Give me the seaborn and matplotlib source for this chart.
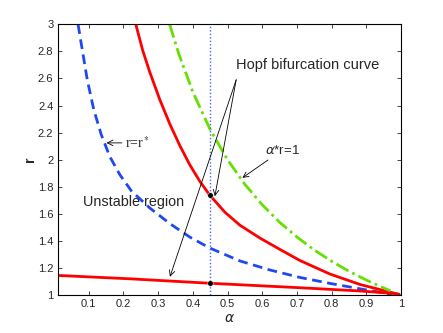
import numpy as np
import pandas as pd
import matplotlib
matplotlib.use("Agg")
import matplotlib.pyplot as plt
import seaborn as sns

# values
alpha_re = [0.069, 0.0811, 0.0955, 0.1143, 0.1359, 0.1605, 0.1893, 0.2231, 0.2759, 0.3336, 0.3913,
            0.4491, 0.5357, 0.6222, 0.7088, 0.7954, 0.882, 0.9484, 0.9743]
r_re = [3.0, 2.813, 2.591, 2.37, 2.185, 2.023, 1.89, 1.768, 1.643, 1.528, 1.428,
        1.347, 1.252, 1.185, 1.13, 1.086, 1.046, 1.017, 1.004]

alpha_hopf = [0.2355, 0.2557, 0.2759, 0.3048, 0.3337, 0.3625, 0.3914, 0.4202, 0.4491, 0.4924, 0.5357,
              0.5934, 0.6511, 0.7089, 0.7955, 0.882, 0.9772, 0.9945]
r_hopf = [3.0, 2.805, 2.646, 2.443, 2.263, 2.104, 1.961, 1.84, 1.737, 1.612, 1.516,
          1.421, 1.337, 1.255, 1.155, 1.078, 1.016, 1.005]

alpha_low = [0.01, 0.218, 0.449, 0.709, 0.882, 0.978, 0.995]
r_low = [1.145, 1.12, 1.087, 1.054, 1.03, 1.012, 1.005]

alpha_one = [0.333, 0.36, 0.4, 0.45, 0.5, 0.55, 0.6, 0.65, 0.7, 0.75, 0.8, 0.85, 0.9, 0.95, 0.97]
r_one = [3.0, 2.778, 2.5, 2.222, 2.0, 1.818, 1.667, 1.538, 1.429, 1.333, 1.25, 1.176, 1.111, 1.053, 1.031]

alpha_cut = 0.45
hopf_pts = [1.74, 1.087]

x_ticks = [0.1, 0.2, 0.3, 0.4, 0.5, 0.6, 0.7, 0.8, 0.9, 1]
y_ticks = [1, 1.2, 1.4, 1.6, 1.8, 2, 2.2, 2.4, 2.6, 2.8, 3]

sns.set_style("ticks")
plt.rcParams['font.family'] = ['Liberation Sans', 'DejaVu Sans']
plt.rcParams['xtick.direction'] = 'in'
plt.rcParams['ytick.direction'] = 'in'

fig = plt.figure(figsize=(4.43, 3.33), dpi=100)
ax = fig.add_axes([0.130, 0.114, 0.775, 0.813])

sns.lineplot(x=alpha_re, y=r_re, ax=ax, color='#1f48f0', lw=2, sort=False, estimator=None)
ax.lines[-1].set_linestyle((0, (3.5, 2)))
sns.lineplot(x=alpha_hopf, y=r_hopf, ax=ax, color='#ff0000', lw=2, sort=False, estimator=None)
sns.lineplot(x=alpha_low, y=r_low, ax=ax, color='#ff0000', lw=2, sort=False, estimator=None)
sns.lineplot(x=alpha_one, y=r_one, ax=ax, color='#66e000', lw=2, sort=False, estimator=None)
ax.lines[-1].set_linestyle((0, (5, 1.5, 1, 1.5)))
ax.axvline(alpha_cut, color='#4466ff', lw=1, ls=(0, (1, 1.5)))
sns.scatterplot(x=[alpha_cut] * 2, y=hopf_pts, ax=ax, color='black', s=16, zorder=5)

arrow = dict(arrowstyle='->', color='black', lw=0.6, shrinkA=0, shrinkB=0)
ax.annotate('r=r$^*$', xy=(0.151, 2.124), xytext=(0.205, 2.124), fontsize=10, va='center',
            family='Liberation Serif', math_fontfamily='stix', arrowprops=arrow)
ax.annotate(r'$\alpha$*r=1', xy=(0.543, 1.866), xytext=(0.607, 2.07), fontsize=9.5, va='center',
            arrowprops=arrow)
ax.text(0.525, 2.70, 'Hopf bifurcation curve', fontsize=10.5, va='center')
ax.annotate('', xy=(0.4635, 1.73), xytext=(0.525, 2.59), arrowprops=arrow)
ax.annotate('', xy=(0.334, 1.135), xytext=(0.525, 2.59), arrowprops=arrow)
ax.text(0.082, 1.686, 'Unstable region', fontsize=10.4, va='center')

ax.set_xlim(0.01, 1)
ax.set_ylim(1, 3)
ax.set_xticks(x_ticks)
ax.set_xticklabels([str(t) for t in x_ticks])
ax.set_yticks(y_ticks)
ax.set_yticklabels([('%g' % t) for t in y_ticks])
ax.tick_params(labelsize=8, length=3, width=0.6, top=True, right=True, pad=3)
for s in ax.spines.values():
    s.set_visible(True)
    s.set_linewidth(0.8)
    s.set_color('black')
ax.set_xlabel(r'$\alpha$', fontsize=10, labelpad=1)
ax.set_ylabel('r', fontsize=10, fontweight='bold', labelpad=1)

fig.savefig('out.png', dpi=100)
